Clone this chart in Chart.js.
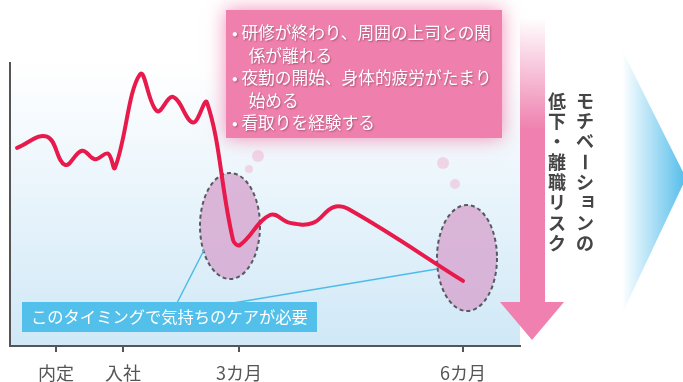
<!DOCTYPE html>
<html>
<head>
<meta charset="utf-8">
<script src="https://cdn.jsdelivr.net/npm/chart.js@4.4.1/dist/chart.umd.min.js"></script>
<style>
  html, body { margin: 0; padding: 0; background: #fff; }
  #wrap { width: 683px; height: 382px; }
</style>
</head>
<body>
<div id="wrap"><canvas id="chart" width="683" height="382"></canvas></div>
<script>
const fontJP = '"Noto Sans CJK JP", "Noto Sans", sans-serif';

// x 軸の目盛り位置とラベル
const tickValues = [46, 113, 229, 453];
const tickLabels = ['内定', '入社', '3カ月', '6カ月'];

// モチベーション曲線
const motivX = [7, 37, 55, 72, 85, 98, 105, 130, 147, 163, 183, 197, 223, 230, 260, 280, 303, 323, 338, 453];
const motivY = [70, 74, 64, 69, 66, 68, 63, 96, 83, 88, 79, 86, 37.5, 35.7, 46.3, 43.5, 43.5, 49, 48.5, 23];

// 注目ポイント（楕円）
const focusX = [220, 457];
const focusY = [42.4, 31.1];

const bulletLines = [
  '• 研修が終わり、周囲の上司との関',
  '　係が離れる',
  '• 夜勤の開始、身体的疲労がたまり',
  '　始める',
  '• 看取りを経験する'
];
const calloutText = 'このタイミングで気持ちのケアが必要';
const sideCol1 = 'モチベーションの';
const sideCol2 = '低下・離職リスク';

const points = motivX.map((x, i) => ({ x, y: motivY[i] }));

const decorPlugin = {
  id: 'decor',
  beforeDraw(chart) {
    const { ctx, chartArea: a } = chart;
    ctx.save();
    const g = ctx.createLinearGradient(0, a.top, 0, a.bottom);
    g.addColorStop(0, '#ffffff');
    g.addColorStop(1, '#d0e8f7');
    ctx.fillStyle = g;
    ctx.fillRect(a.left, a.top, a.right - a.left, a.bottom - a.top);
    ctx.restore();
  },
  beforeDatasetsDraw(chart) {
    const { ctx, scales: { x, y } } = chart;
    ctx.save();

    // ピンクの説明ボックス
    ctx.shadowColor = 'rgba(239,128,173,0.9)';
    ctx.shadowBlur = 18;
    ctx.fillStyle = '#ef80ad';
    ctx.fillRect(226, 10, 276, 128);
    ctx.shadowBlur = 0;

    // 吹き出しの泡
    ctx.fillStyle = 'rgba(240,150,190,0.35)';
    [[258, 156, 6], [249, 169, 4], [443, 163, 6], [455, 184, 5]].forEach(([cx, cy, r]) => {
      ctx.beginPath();
      ctx.arc(cx, cy, r, 0, Math.PI * 2);
      ctx.fill();
    });

    // 楕円
    focusX.forEach((fx, i) => {
      const cx = x.getPixelForValue(fx);
      const cy = y.getPixelForValue(focusY[i]);
      ctx.beginPath();
      ctx.ellipse(cx, cy, 30, 53, 0, 0, Math.PI * 2);
      ctx.fillStyle = 'rgba(214,160,204,0.75)';
      ctx.fill();
      ctx.setLineDash([4, 3]);
      ctx.lineWidth = 2;
      ctx.strokeStyle = '#555a60';
      ctx.stroke();
      ctx.setLineDash([]);
    });

    // 引き出し線
    ctx.strokeStyle = '#4dbde8';
    ctx.lineWidth = 1.5;
    ctx.beginPath();
    ctx.moveTo(177, 303);
    ctx.lineTo(204, 250);
    ctx.moveTo(233, 303);
    ctx.lineTo(437, 269);
    ctx.stroke();

    // 水色ボックス
    ctx.fillStyle = '#52c0ea';
    ctx.fillRect(22, 302, 295, 30);
    ctx.fillStyle = '#ffffff';
    ctx.font = '16.3px ' + fontJP;
    ctx.textBaseline = 'middle';
    ctx.textAlign = 'left';
    ctx.fillText(calloutText, 31, 317);

    // 下向き矢印
    const ag = ctx.createLinearGradient(0, 18, 0, 130);
    ag.addColorStop(0, 'rgba(239,128,175,0)');
    ag.addColorStop(1, 'rgba(239,128,175,1)');
    ctx.fillStyle = ag;
    ctx.fillRect(520, 18, 25, 286);
    ctx.fillStyle = '#ef80af';
    ctx.beginPath();
    ctx.moveTo(500, 302);
    ctx.lineTo(564, 302);
    ctx.lineTo(532, 340);
    ctx.closePath();
    ctx.fill();

    // 右の山形
    const cg = ctx.createLinearGradient(622, 0, 683, 0);
    cg.addColorStop(0, 'rgba(91,192,236,0)');
    cg.addColorStop(1, 'rgba(91,192,236,1)');
    ctx.fillStyle = cg;
    ctx.beginPath();
    ctx.moveTo(622, 50);
    ctx.lineTo(686, 178);
    ctx.lineTo(622, 314);
    ctx.closePath();
    ctx.fill();

    // 箇条書き
    ctx.font = '16.7px ' + fontJP;
    ctx.textAlign = 'left';
    ctx.textBaseline = 'middle';
    ctx.shadowColor = 'rgba(80,20,40,0.45)';
    ctx.shadowBlur = 2;
    ctx.shadowOffsetX = 1;
    ctx.shadowOffsetY = 1;
    ctx.fillStyle = '#ffffff';
    bulletLines.forEach((t, i) => ctx.fillText(t, 232, 33 + i * 22.5));
    ctx.shadowColor = 'transparent';

    // 縦書き
    ctx.fillStyle = '#454545';
    ctx.font = 'bold 18px ' + fontJP;
    ctx.textAlign = 'center';
    ctx.textBaseline = 'middle';
    const drawVertical = (text, cx, top) => {
      [...text].forEach((ch, i) => {
        const cy = top + i * 20.3;
        ctx.save();
        if (ch === 'ー') {
          ctx.translate(cx, cy);
          ctx.rotate(Math.PI / 2);
          ctx.fillText(ch, 0, 0);
        } else if ('ョャュッ'.includes(ch)) {
          ctx.fillText(ch, cx + 3, cy - 3);
        } else {
          ctx.fillText(ch, cx, cy);
        }
        ctx.restore();
      });
    };
    drawVertical(sideCol1, 585, 101);
    drawVertical(sideCol2, 557, 101);

    ctx.restore();
  }
};

new Chart(document.getElementById('chart'), {
  type: 'line',
  data: {
    datasets: [{
      data: points,
      borderColor: '#e8194b',
      borderWidth: 4,
      pointRadius: 0,
      tension: 0.4,
      borderCapStyle: 'round',
      borderJoinStyle: 'round'
    }]
  },
  options: {
    responsive: false,
    animation: false,
    layout: { padding: { top: 63, right: 163, left: 0, bottom: 0 } },
    plugins: { legend: { display: false }, tooltip: { enabled: false } },
    scales: {
      x: {
        type: 'linear',
        min: 0,
        max: 510,
        afterBuildTicks: scale => { scale.ticks = tickValues.map(v => ({ value: v })); },
        afterFit: scale => { scale.height = 36; },
        ticks: {
          autoSkip: false,
          maxRotation: 0,
          padding: 10,
          color: '#555',
          font: { family: fontJP, size: 18 },
          callback: (v, i) => tickLabels[i]
        },
        grid: { drawOnChartArea: false, tickLength: 6, color: '#555', lineWidth: 2 },
        border: { display: true, color: '#555', width: 2 }
      },
      y: {
        min: 0,
        max: 100,
        afterFit: scale => { scale.width = 10; },
        ticks: { display: false },
        grid: { display: false },
        border: { display: true, color: '#555', width: 2 }
      }
    }
  },
  plugins: [decorPlugin]
});
</script>
</body>
</html>
